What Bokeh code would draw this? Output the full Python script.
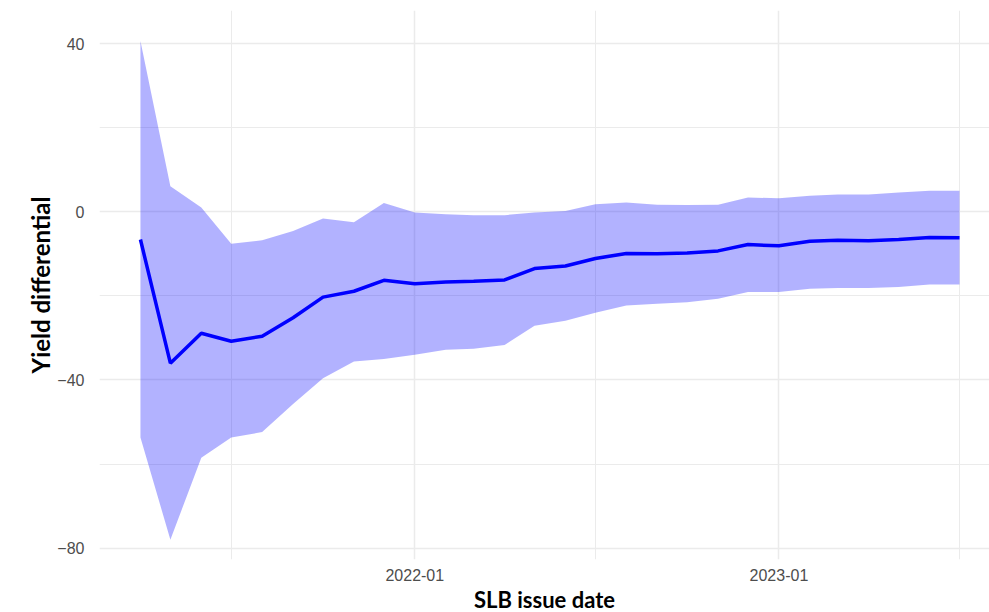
import math
import pandas as pd
from bokeh.plotting import figure
from bokeh.models import FixedTicker, DatetimeTickFormatter, Range1d, Title
from bokeh.embed import file_html
from bokeh.resources import INLINE

# ---- data ----
months = ["2021-04", "2021-05", "2021-06", "2021-07", "2021-08", "2021-09", "2021-10",
          "2021-11", "2021-12", "2022-01", "2022-02", "2022-03", "2022-04", "2022-05",
          "2022-06", "2022-07", "2022-08", "2022-09", "2022-10", "2022-11", "2022-12",
          "2023-01", "2023-02", "2023-03", "2023-04", "2023-05", "2023-06", "2023-07"]
mean_vals = [-6.6, -36.0, -28.9, -30.8, -29.6, -25.2, -20.3, -18.9, -16.3, -17.1,
             -16.7, -16.5, -16.2, -13.5, -12.9, -11.1, -9.9, -10.0, -9.8, -9.3,
             -7.8, -8.1, -7.0, -6.8, -6.9, -6.6, -6.1, -6.2]
upper_vals = [40.6, 6.1, 1.0, -7.6, -6.8, -4.6, -1.6, -2.5, 2.1, -0.2,
              -0.6, -0.8, -0.8, -0.2, 0.2, 1.8, 2.2, 1.7, 1.6, 1.7,
              3.4, 3.2, 3.8, 4.1, 4.1, 4.6, 5.0, 5.0]
lower_vals = [-53.7, -78.0, -58.5, -53.7, -52.4, -45.7, -39.6, -35.6, -35.0, -34.0,
              -32.8, -32.6, -31.7, -27.1, -25.9, -24.0, -22.3, -21.9, -21.5, -20.7,
              -19.1, -19.1, -18.3, -18.1, -18.1, -17.9, -17.3, -17.3]
y_ticks = [-80, -40, 0, 40]
y_minor = [-60, -20, 20]
x_tick_dates = ["2022-01-01", "2023-01-01"]
x_minor_dates = ["2021-07-01", "2022-07-01", "2023-07-01"]
x_title = "SLB issue date"
y_title = "Yield differential"

dates = pd.to_datetime([m + "-01" for m in months])

def ms(d):
    return pd.Timestamp(d).value / 1e6

t0 = ms(dates[0])
t1 = ms(dates[-1])
span = t1 - t0
x_start = t0 - 0.05 * span
x_end = t0 + span * (849.0 / 819.0)

p = figure(width=989, height=612, x_axis_type="datetime",
           output_backend="svg", toolbar_location=None,
           x_range=Range1d(x_start, x_end), y_range=Range1d(-82.7, 47.87),
           min_border_left=99, min_border_right=0, min_border_top=10,
           min_border_bottom=49)
p.outline_line_color = None
p.background_fill_color = "white"

p.varea(x=dates, y1=lower_vals, y2=upper_vals, fill_color="#0000ff", fill_alpha=0.3)
p.line(x=dates, y=mean_vals, line_color="#0000ff", line_width=3.5)

p.xaxis.ticker = FixedTicker(ticks=[ms(d) for d in x_tick_dates],
                             minor_ticks=[ms(d) for d in x_minor_dates])
p.xaxis.formatter = DatetimeTickFormatter(days="%Y-%m", months="%Y-%m", years="%Y-%m")
p.yaxis.ticker = FixedTicker(ticks=y_ticks, minor_ticks=y_minor)
p.yaxis.major_label_overrides = {v: (("\u2212" + str(abs(v))) if v < 0 else str(v)) for v in y_ticks}

for ax in (p.xaxis, p.yaxis):
    ax.axis_line_color = None
    ax.major_tick_line_color = None
    ax.minor_tick_line_color = None
    ax.major_label_text_font = "Liberation Sans"
    ax.major_label_text_font_size = "16px"
    ax.major_label_text_color = "#4d4d4d"
p.yaxis.major_label_standoff = 9
p.xaxis.major_label_standoff = 3

for g in (p.xgrid, p.ygrid):
    g.grid_line_color = "#ebebeb"
    g.grid_line_width = 1.5
    g.minor_grid_line_color = "#ebebeb"
    g.minor_grid_line_width = 1.0

xt = Title(text=x_title, align="center", text_font="Lato",
           text_font_style="bold", text_font_size="22px", text_color="black",
           standoff=0)
p.add_layout(xt, "below")
yt = Title(text=y_title, align="center", text_font="Lato",
           text_font_style="bold", text_font_size="24px", text_color="black",
           standoff=0)
p.add_layout(yt, "left")

open("out.html", "w").write(file_html(p, INLINE))
